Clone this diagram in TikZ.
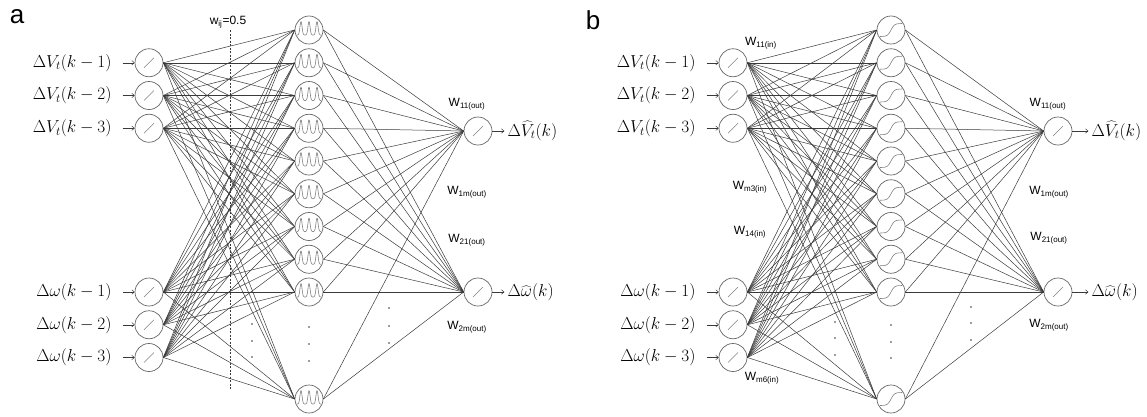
\documentclass[tikz,border=0pt]{standalone}
\usepackage{fontspec}
\setsansfont{Liberation Sans}
\usepackage{tikz}
\usetikzlibrary{arrows.meta, positioning}
\definecolor{netline}{HTML}{3A3A3A}
\definecolor{netunit}{HTML}{666666}
\definecolor{netsym}{HTML}{808080}

\newcommand{\wsub}[1]{W\textsubscript{#1}}

\begin{document}
\begin{tikzpicture}[
  x=1pt, y=-1pt,
  every node/.style={inner sep=1pt},
  unit/.style={circle, draw=netunit, line width=0.7pt, minimum size=28pt, inner sep=0pt},
  link/.style={draw=netline, line width=0.5pt},
  feed/.style={draw=netline, line width=0.5pt, -{Straight Barb[length=2.5pt, width=4.5pt]}},
  sym/.style={draw=netsym, line width=0.6pt},
  sig/.style={font=\fontsize{18}{20}\selectfont},
  wlabel/.style={font=\sffamily\fontsize{12}{12}\selectfont, inner sep=0pt},
  panel/.style={font=\sffamily\fontsize{26}{26}\selectfont},
]
  \useasboundingbox (0,0) rectangle (1147,416);

  % ---- panel a: RBF network
  \node[panel] (pa) at (17,17) {a};
  \foreach \i/\y in {1/62.75, 2/95.5, 3/128.25, 4/292, 5/324.75, 6/357.5}
    \node[unit] (ai\i) at (149,\y) {};
  \foreach \j/\y in {1/30, 2/62.75, 3/95.5, 4/128.25, 5/161, 6/193.75, 7/226.5, 8/259.25, 9/292, 10/399}
    \node[unit] (ah\j) at (309,\y) {};
  \node[unit] (ao1) at (478,131) {};
  \node[unit] (ao2) at (478,292) {};

  \foreach \i in {1,...,6}
    \foreach \j in {1,...,10}
      \draw[link] (ai\i.east) -- (ah\j.west);
  \foreach \j in {1,...,10}
    \foreach \k in {1,2}
      \draw[link] (ah\j.east) -- (ao\k.west);

  % transfer functions
  \foreach \n in {ai1,ai2,ai3,ai4,ai5,ai6,ao1,ao2}
    \draw[sym] ([shift={(-5,5)}]\n.center) -- ([shift={(5,-5)}]\n.center);
  \foreach \j in {1,...,10}
    \draw[sym, shift={(ah\j.center)}] plot[domain=-12:12, samples=100, smooth]
      (\x, {5 - 13.5*(exp(-((\x+8)*(\x+8))/2.2) + exp(-(\x*\x)/2.2) + exp(-((\x-8)*(\x-8))/2.2))});

  % signals
  \foreach \i/\t in {1/{$\Delta V_t(k-1)$}, 2/{$\Delta V_t(k-2)$}, 3/{$\Delta V_t(k-3)$},
                     4/{$\Delta\omega(k-1)$}, 5/{$\Delta\omega(k-2)$}, 6/{$\Delta\omega(k-3)$}}
  {
    \node[sig, left=22pt of ai\i] (al\i) {\t};
    \draw[feed, shorten <=10pt] (al\i) -- (ai\i);
  }
  \node[sig, right=14pt of ao1] (aol1) {$\Delta\widehat{V}_t(k)$};
  \node[sig, right=14pt of ao2] (aol2) {$\Delta\widehat{\omega}(k)$};
  \draw[feed, shorten >=2pt] (ao1) -- (aol1);
  \draw[feed, shorten >=2pt] (ao2) -- (aol2);

  % fixed width line
  \node[wlabel] (wij) at (228,22) {w\textsubscript{ij}=0.5};
  \coordinate (dtop) at (230,30);
  \coordinate (dbot) at (230,390);
  \draw[netline, line width=0.5pt, dash pattern=on 2pt off 1.5pt] (dtop) -- (dbot);

  \node[wlabel] (aw11) at (467,104) {\wsub{11(out)}};
  \node[wlabel] (aw1m) at (467,192) {\wsub{1m(out)}};
  \node[wlabel] (aw21) at (467,240) {\wsub{21(out)}};
  \node[wlabel] (aw2m) at (467,327) {\wsub{2m(out)}};

  \foreach \y in {327,344,361} \fill[netline] (309,\y) circle (0.9pt);
  \foreach \y in {308,326,343} \fill[netline] (389,\y) circle (0.9pt);
  \foreach \y in {324,341,357} \fill[netline] (252,\y) circle (0.9pt);

  % ---- panel b: sigmoid network
  \node[panel] (pb) at (593,20) {b};
  \foreach \i/\y in {1/62.75, 2/95.5, 3/128.25, 4/292, 5/324.75, 6/357.5}
    \node[unit] (bi\i) at (733,\y) {};
  \foreach \j/\y in {1/30, 2/62.75, 3/95.5, 4/128.25, 5/161, 6/193.75, 7/226.5, 8/259.25, 9/292, 10/399}
    \node[unit] (bh\j) at (891,\y) {};
  \node[unit] (bo1) at (1058,131) {};
  \node[unit] (bo2) at (1058,292) {};

  \foreach \i in {1,...,6}
    \foreach \j in {1,...,10}
      \draw[link] (bi\i.east) -- (bh\j.west);
  \foreach \j in {1,...,10}
    \foreach \k in {1,2}
      \draw[link] (bh\j.east) -- (bo\k.west);

  \foreach \n in {bi1,bi2,bi3,bi4,bi5,bi6,bo1,bo2}
    \draw[sym] ([shift={(-5,5)}]\n.center) -- ([shift={(5,-5)}]\n.center);
  \foreach \j in {1,...,10}
    \draw[sym, shift={(bh\j.center)}] plot[domain=-11:11, samples=50, smooth]
      (\x, {-6.5*tanh(\x/3.5)});

  \foreach \i/\t in {1/{$\Delta V_t(k-1)$}, 2/{$\Delta V_t(k-2)$}, 3/{$\Delta V_t(k-3)$},
                     4/{$\Delta\omega(k-1)$}, 5/{$\Delta\omega(k-2)$}, 6/{$\Delta\omega(k-3)$}}
  {
    \node[sig, left=22pt of bi\i] (bl\i) {\t};
    \draw[feed, shorten <=10pt] (bl\i) -- (bi\i);
  }
  \node[sig, right=18pt of bo1] (bol1) {$\Delta\widehat{V}_t(k)$};
  \node[sig, right=18pt of bo2] (bol2) {$\Delta\widehat{\omega}(k)$};
  \draw[feed, shorten >=2pt] (bo1) -- (bol1);
  \draw[feed, shorten >=2pt] (bo2) -- (bol2);

  \node[wlabel] (bw11i) at (761,43) {\wsub{11(in)}};
  \node[wlabel] (bwm3i) at (750,187) {\wsub{m3(in)}};
  \node[wlabel] (bw14i) at (750,232) {\wsub{14(in)}};
  \node[wlabel] (bwm6i) at (762,378) {\wsub{m6(in)}};
  \node[wlabel] (bw11) at (1048,104) {\wsub{11(out)}};
  \node[wlabel] (bw1m) at (1049,192) {\wsub{1m(out)}};
  \node[wlabel] (bw21) at (1049,238) {\wsub{21(out)}};
  \node[wlabel] (bw2m) at (1049,325) {\wsub{2m(out)}};

  \foreach \y in {325,342,358} \fill[netline] (891,\y) circle (0.9pt);
  \foreach \y in {307,323,340} \fill[netline] (971,\y) circle (0.9pt);
  \foreach \y in {322,338,355} \fill[netline] (835,\y) circle (0.9pt);
\end{tikzpicture}
\end{document}
